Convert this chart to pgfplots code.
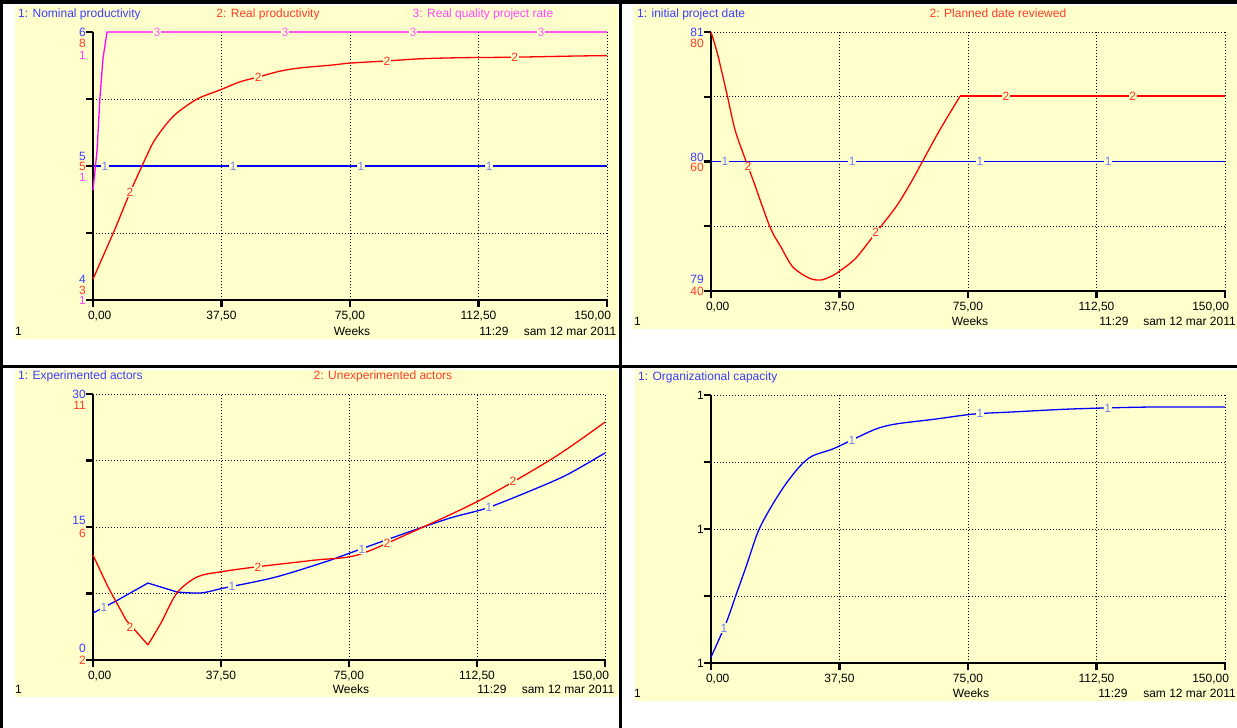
\documentclass[border=0pt]{standalone}
\usepackage{pgfplots}
\pgfplotsset{compat=1.18}
\usepackage{fontspec}
\setmainfont{Liberation Sans}
\definecolor{bg}{RGB}{255,255,204}
\definecolor{lblue}{RGB}{0,0,255}
\definecolor{lred}{RGB}{255,0,0}
\definecolor{lmag}{RGB}{255,0,255}
\definecolor{tblue}{RGB}{60,60,255}
\definecolor{tred}{RGB}{255,60,40}
\definecolor{tmag}{RGB}{255,70,255}
\definecolor{nblue}{RGB}{110,130,240}
\definecolor{nred}{RGB}{255,50,30}
\definecolor{nmag}{RGB}{255,90,255}
\newcommand\stf{\fontsize{12}{14}\selectfont}
\tikzset{gridl/.style={black, line width=0.9pt, dash pattern=on 1pt off 2pt}}
% grid lines drawn as the first plots of each axis
\newcommand\stgridv{%
  \addplot[gridl, forget plot, mark=none, unbounded coords=jump] coordinates {(37.5,0)(37.5,1)(nan,nan)(75,0)(75,1)(nan,nan)(112.5,0)(112.5,1)(nan,nan)(150,0)(150,1)};
}
\newcommand\stgridh{%
  \addplot[gridl, forget plot, mark=none, unbounded coords=jump] coordinates {(0,0.25)(150,0.25)(nan,nan)(0,0.5)(150,0.5)(nan,nan)(0,0.75)(150,0.75)};
}
\newcommand\stgridhq{%
  \addplot[gridl, forget plot, mark=none, unbounded coords=jump] coordinates {(0,0.25)(150,0.25)(nan,nan)(0,0.75)(150,0.75)};
}
\newcommand\stgridtop{%
  \addplot[gridl, forget plot, mark=none] coordinates {(0,1)(150,1)};
}
\pgfplotsset{
  stella/.style={
    scale only axis, clip=false,
    xmin=0, xmax=150, ymin=0, ymax=1,
    axis x line=bottom, axis y line=left,
    axis line style={-, line width=2.5pt, black},
    xtick={0,37.5,75,112.5,150},
    xticklabels={{\makebox[0pt][l]{\hspace{-5pt}0,00}},{37,50},{75,00},{112,50},{\makebox[0pt][r]{150,00\hspace{-4pt}}}},
    ytick={0,0.25,0.5,0.75,1},
    yticklabels={},
    tick align=outside,
    major tick length=7pt,
    tick style={black, line width=2.2pt},
    tick label style={font=\stf},
    xticklabel style={anchor=base, inner sep=0pt, yshift=-12pt},
    extra y tick style={major tick length=0pt,
      yticklabel style={anchor=east, inner sep=0pt, xshift=-7pt}},
  },
  lab/.style 2 args={draw=none, mark=none, nodes near coords={#1},
    nodes near coords align={center},
    every node near coord/.append style={anchor=center, fill=bg, inner sep=0.6pt, text=#2, font=\stf}},
  ser/.style={line width=1.3pt, mark=none, #1},
}
\begin{document}
\begin{tikzpicture}
\useasboundingbox (0,0) rectangle (1237pt,-728pt);
% panels
\fill[bg] (15pt,-6pt) rectangle (618pt,-339pt);
\fill[bg] (633pt,-6pt) rectangle (1237pt,-329pt);
\fill[bg] (15pt,-370pt) rectangle (618pt,-697pt);
\fill[bg] (635pt,-370pt) rectangle (1237pt,-701pt);
% frame
\fill[black] (0,0) rectangle (1237pt,-4pt);
\fill[black] (0,0) rectangle (3pt,-728pt);
\fill[black] (619pt,0) rectangle (622pt,-728pt);
\fill[black] (0,-365pt) rectangle (1237pt,-368pt);

% ---------------- Top left ----------------
\begin{axis}[stella, at={(93pt,-300pt)}, anchor=south west, width=514pt, height=268pt,
  extra y ticks={1,0.959,0.914,0.537,0.5,0.459,0.078,0.037,0},
  extra y tick labels={\textcolor{tblue}{6},\textcolor{tred}{8},\textcolor{tmag}{1},\textcolor{tblue}{5},\textcolor{tred}{5},\textcolor{tmag}{1},\textcolor{tblue}{4},\textcolor{tred}{3},\textcolor{tmag}{1}}]
\stgridv
\stgridh
% 1: Nominal productivity (scale 4..6)
\addplot[ser=lblue, y filter/.expression={(y-4)/2}] coordinates {(0,5)(150,5)};
\addplot[lab={1}{nblue}, y filter/.expression={(y-4)/2}] coordinates {(3.5,5)(40.9,5)(78.2,5)(115.6,5)};
% 2: Real productivity (scale 3..8)
\addplot[ser=lred, y filter/.expression={(y-3)/5}] coordinates {(0,3.39)(6.4,4.32)(10.8,5.01)};
\addplot[ser=lred, smooth, tension=0.5, y filter/.expression={(y-3)/5}] coordinates {
(10.8,5.01)(14.3,5.50)(17.5,5.93)(21.0,6.25)(24.5,6.49)(30.4,6.75)(37.1,6.92)(42.9,7.07)(48.2,7.16)(54.6,7.27)(60.4,7.33)(69.2,7.38)(75,7.42)(85.8,7.46)(95.4,7.50)(107.1,7.52)(122.6,7.53)(139.2,7.55)(150,7.56)};
\addplot[lab={2}{nred}, y filter/.expression={(y-3)/5}] coordinates {(10.8,5.01)(48.2,7.16)(85.8,7.46)(123.1,7.53)};
% 3: Real quality project rate (fraction of scale)
\addplot[ser=lmag] coordinates {(0,0.41)(1.2,0.56)(2.0,0.75)(2.9,0.9)(4.1,1)(150,1)};
\addplot[lab={3}{nmag}] coordinates {(18.7,1)(56.0,1)(93.4,1)(130.7,1)};
\end{axis}

% ---------------- Top right ----------------
\begin{axis}[stella, at={(711pt,-291pt)}, anchor=south west, width=514pt, height=259pt,
  extra y ticks={1,0.958,0.517,0.479,0.046,0},
  extra y tick labels={\textcolor{tblue}{81},\textcolor{tred}{80},\textcolor{tblue}{80},\textcolor{tred}{60},\textcolor{tblue}{79},\textcolor{tred}{40}}]
\stgridv
\stgridhq
\stgridtop
\addplot[ser=lblue, y filter/.expression={(y-79)/2}] coordinates {(0,80)(150,80)};
\addplot[lab={1}{nblue}, y filter/.expression={(y-79)/2}] coordinates {(4.1,80)(41.2,80)(78.5,80)(115.9,80)};
\addplot[ser=lred, smooth, tension=0.5, y filter/.expression={(y-40)/40}] coordinates {
(0,80)(2.0,76.4)(4.7,70.3)(7.0,64.9)(9.9,60.5)(12.3,57.1)(17.2,49.9)(20.4,46.8)(23.9,43.7)(28.6,42.0)(32.1,41.7)(35.6,42.4)(37.6,43.1)(42.3,45.1)(48.1,49.0)(54.0,53.0)(58.4,56.8)(61.6,59.9)(66.8,64.9)(72.7,70.1)};
\addplot[ser=lred, y filter/.expression={(y-40)/40}] coordinates {(72.7,70.1)(150,70.1)};
\addplot[lab={2}{nred}, y filter/.expression={(y-40)/40}] coordinates {(10.8,59.2)(48.1,49.0)(86.1,70.1)(123.1,70.1)};
\end{axis}

% ---------------- Bottom left ----------------
\begin{axis}[stella, at={(93pt,-660pt)}, anchor=south west, width=512pt, height=266pt,
  extra y ticks={1,0.959,0.523,0.477,0.045,0},
  extra y tick labels={\textcolor{tblue}{30},\textcolor{tred}{11},\textcolor{tblue}{15},\textcolor{tred}{6},\textcolor{tblue}{0},\textcolor{tred}{2}}]
\stgridv
\stgridh
\stgridtop
\addplot[ser=lblue, y filter/.expression={y/30}] coordinates {(0,5.30)(7.3,6.77)(16.1,8.68)(24.6,7.67)};
\addplot[ser=lblue, smooth, tension=0.5, y filter/.expression={y/30}] coordinates {
(24.6,7.67)(31.6,7.56)(38.4,8.12)(53.6,9.36)(69.7,11.28)(75.3,12.07)(90.0,14.10)(104.6,16.01)(115.4,17.14)(128.9,19.2)(138.9,20.9)(150,23.35)};
\addplot[lab={1}{nblue}, y filter/.expression={y/30}] coordinates {(3.2,5.95)(40.7,8.35)(78.8,12.45)(116,17.2)};
\addplot[ser=lred, y filter/.expression={(y-2)/9}] coordinates {(0,5.55)(4.4,4.47)(9.7,3.35)(16.1,2.51)};
\addplot[ser=lred, smooth, tension=0.5, y filter/.expression={(y-2)/9}] coordinates {
(16.1,2.51)(19.9,3.25)(24.6,4.27)(30.5,4.81)(37.2,4.98)(47.8,5.15)(65.0,5.38)(77.4,5.55)(92.9,6.30)(113.4,7.41)(134.8,8.83)(150,10.05)};
\addplot[lab={2}{nred}, y filter/.expression={(y-2)/9}] coordinates {(10.8,3.1)(48.3,5.15)(86.1,5.95)(123,8.05)};
\end{axis}

% ---------------- Bottom right ----------------
\begin{axis}[stella, at={(711pt,-663pt)}, anchor=south west, width=514pt, height=268pt,
  extra y ticks={1,0.5,0},
  extra y tick labels={1,1,1}]
\stgridv
\stgridh
\stgridtop
\addplot[ser=lblue, smooth, tension=0.5] coordinates {
(0,0.022)(4.4,0.149)(7.3,0.254)(10.2,0.358)(13.7,0.489)(17.2,0.575)(21.6,0.664)(26.0,0.735)(29.5,0.772)(35.6,0.799)(41.1,0.832)(48.1,0.873)(54.0,0.892)(65.4,0.910)(76.7,0.929)(88.4,0.937)(105.6,0.948)(127.5,0.955)(150,0.955)};
\addplot[lab={1}{nblue}] coordinates {(3.8,0.131)(41.1,0.832)(78.5,0.930)(115.8,0.951)};
\end{axis}

% ---------------- texts ----------------
\begin{scope}[every node/.style={font=\stf, inner sep=0pt}]
\node[anchor=base west, text=tblue] at (18pt,-17pt) {1: Nominal productivity};
\node[anchor=base, text=tred] at (268pt,-17pt) {2: Real productivity};
\node[anchor=base, text=tmag] at (483pt,-17pt) {3: Real quality project rate};
\node[anchor=base west, text=tblue] at (637pt,-17pt) {1: initial project date};
\node[anchor=base, text=tred] at (998pt,-17pt) {2: Planned date reviewed};
\node[anchor=base west, text=tblue] at (18pt,-379pt) {1: Experimented actors};
\node[anchor=base, text=tred] at (383pt,-379pt) {2: Unexperimented actors};
\node[anchor=base west, text=tblue] at (638pt,-380pt) {1: Organizational capacity};
% footers
\node[anchor=base west] at (15pt,-335pt) {1};
\node[anchor=base] at (352pt,-335pt) {Weeks};
\node[anchor=base] at (494pt,-335pt) {11:29};
\node[anchor=base] at (570pt,-335pt) {sam 12 mar 2011};
\node[anchor=base west] at (634pt,-325pt) {1};
\node[anchor=base] at (970pt,-325pt) {Weeks};
\node[anchor=base] at (1114pt,-325pt) {11:29};
\node[anchor=base east] at (1236pt,-325pt) {sam 12 mar 2011};
\node[anchor=base west] at (15pt,-693pt) {1};
\node[anchor=base] at (351pt,-693pt) {Weeks};
\node[anchor=base] at (492pt,-693pt) {11:29};
\node[anchor=base] at (568pt,-693pt) {sam 12 mar 2011};
\node[anchor=base west] at (634pt,-697pt) {1};
\node[anchor=base] at (971pt,-697pt) {Weeks};
\node[anchor=base] at (1113pt,-697pt) {11:29};
\node[anchor=base east] at (1236pt,-697pt) {sam 12 mar 2011};
\end{scope}
\end{tikzpicture}
\end{document}
